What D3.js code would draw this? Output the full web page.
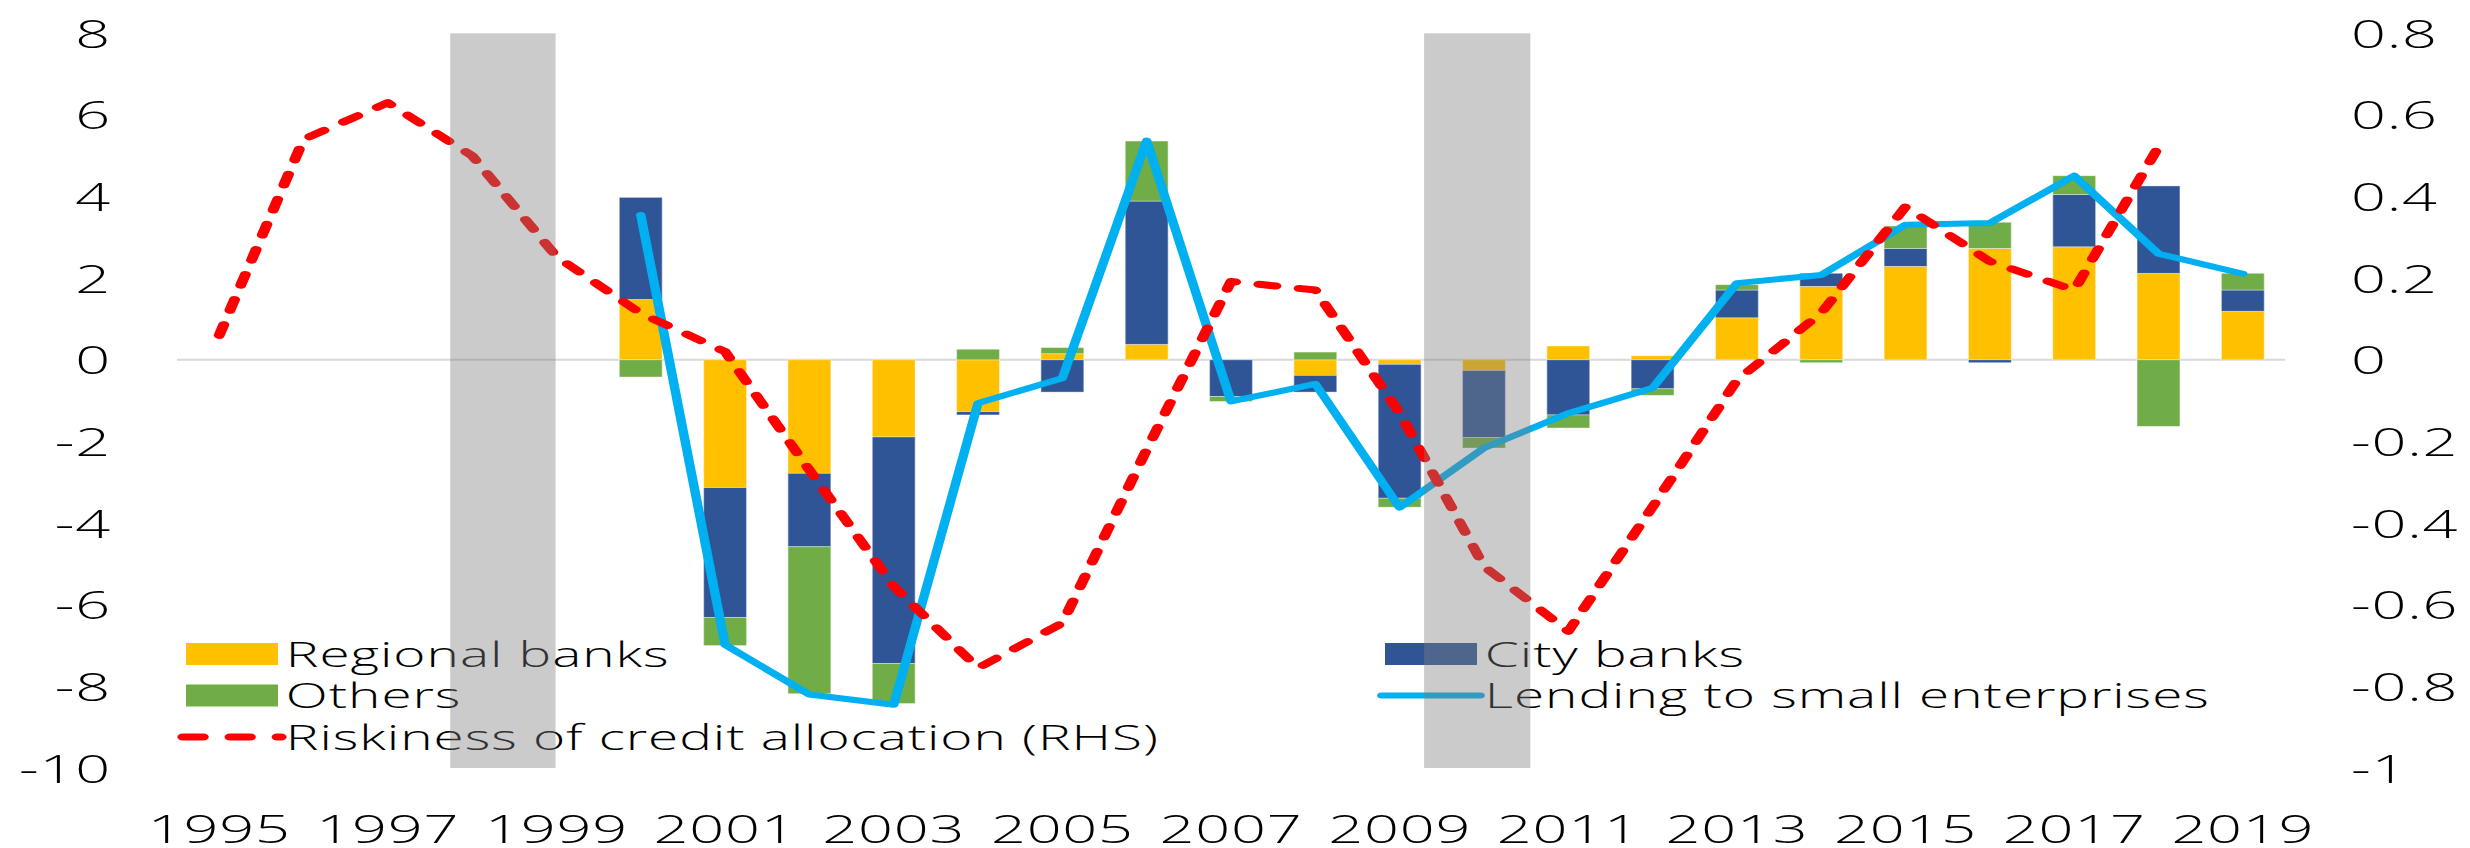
<!DOCTYPE html>
<html>
<head>
<meta charset="utf-8">
<style>
    html, body { margin: 0; padding: 0; background: #fff; }
    svg { display: block; }
    text { font-family: "Open Sans", "Noto Sans", sans-serif; font-weight: 300; fill: #000; }
</style>
</head>
<body>
<div id="chart"></div>
<script src="https://d3js.org/d3.v7.min.js"></script>
<script>

const years = [1995, 1996, 1997, 1998, 1999, 2000, 2001, 2002, 2003, 2004, 2005, 2006, 2007,
    2008, 2009, 2010, 2011, 2012, 2013, 2014, 2015, 2016, 2017, 2018, 2019]

// contributions, % (LHS)
const regional = [null, null, null, null, null, 1.48, -3.13, -2.78, -1.89, -1.27, 0.15, 0.38, 0,
    -0.38, -0.11, -0.26, 0.34, 0.10, 1.03, 1.80, 2.29, 2.73, 2.77, 2.12, 1.19]
const city = [null, null, null, null, null, 2.50, -3.18, -1.80, -5.55, -0.08, -0.79, 3.51, -0.90,
    -0.41, -3.28, -1.64, -1.35, -0.71, 0.68, 0.32, 0.44, -0.07, 1.28, 2.14, 0.52]
const others = [null, null, null, null, null, -0.42, -0.69, -3.60, -0.98, 0.26, 0.15, 1.47, -0.12,
    0.19, -0.22, -0.26, -0.32, -0.16, 0.13, -0.07, 0.55, 0.64, 0.46, -1.63, 0.41]
const lending = [null, null, null, null, null, 3.55, -6.98, -8.2, -8.45, -1.06, -0.45, 5.37, -1.02,
    -0.59, -3.62, -2.16, -1.31, -0.69, 1.88, 2.08, 3.31, 3.35, 4.51, 2.60, 2.11]
// RHS
const riskiness = [0.06, 0.54, 0.63, 0.50, 0.253, 0.114, 0.02, -0.27, -0.555, -0.755, -0.645, -0.22, 0.192,
    0.171, -0.13, -0.506, -0.665, -0.36, -0.05, 0.115, 0.375, 0.241, 0.171, 0.522, null]

// shaded periods, in year units
const shaded = [[1997.74, 1998.99], [2009.29, 2010.55]]

const leftTicks = [8, 6, 4, 2, 0, -2, -4, -6, -8, -10]
const rightTicks = [0.8, 0.6, 0.4, 0.2, 0, -0.2, -0.4, -0.6, -0.8, -1]
const yearTicks = [1995, 1997, 1999, 2001, 2003, 2005, 2007, 2009, 2011, 2013, 2015, 2017, 2019]

const colors = {
    regional: "#FFC000",
    city: "#2F5597",
    others: "#70AD47",
    lending: "#00B0F0",
    risk: "#FF0000"
}

const width = 2470
const height = 848
// the reference picture is stretched sideways, so draw narrow and let the viewBox widen it
const stretch = 1.57
const vw = width / stretch
const plot = { x0: 177 / stretch, x1: 2285 / stretch, y0: 33.3, y1: 768 }

const svg = d3.select("#chart").append("svg")
    .attr("width", width)
    .attr("height", height)
    .attr("viewBox", `0 0 ${vw} ${height}`)
    .attr("preserveAspectRatio", "none")

const x = d3.scaleBand()
    .domain(years)
    .range([plot.x0, plot.x1])
    .paddingInner(0.49)
    .paddingOuter(0.245)
const cx = yr => x(yr) + x.bandwidth() / 2
const xYear = d3.scaleLinear()
    .domain([years[0], years[years.length - 1]])
    .range([cx(years[0]), cx(years[years.length - 1])])

const yL = d3.scaleLinear().domain([-10, 8]).range([plot.y1, plot.y0])
const yR = d3.scaleLinear().domain([-1, 0.8]).range([plot.y1, plot.y0])

//  AXES  //////////////////////////////////////////

const leftAxis = svg.append("g")
    .attr("transform", `translate(${plot.x0},0)`)
    .call(d3.axisLeft(yL).tickValues(leftTicks).tickSize(0).tickPadding(42).tickFormat(d => String(d)))
const rightAxis = svg.append("g")
    .attr("transform", `translate(${plot.x1},0)`)
    .call(d3.axisRight(yR).tickValues(rightTicks).tickSize(0).tickPadding(42).tickFormat(d => String(d)))
const bottomAxis = svg.append("g")
    .attr("transform", `translate(0,843)`)
    .call(d3.axisBottom(x).tickValues(yearTicks).tickSize(0).tickFormat(d => String(d)))

;[leftAxis, rightAxis, bottomAxis].forEach(a => {
    a.select(".domain").remove()
    a.selectAll("text")
        .style("font-family", '"Open Sans", "Noto Sans", sans-serif')
        .style("font-weight", 300)
        .style("font-size", "39px")
        .style("letter-spacing", "0.5px")
        .attr("fill", "#000")
})
leftAxis.selectAll("text").attr("dy", "0.36em")
rightAxis.selectAll("text").attr("dy", "0.36em")
bottomAxis.selectAll("text").attr("y", 0).attr("dy", 0)

//  ZERO LINE  /////////////////////////////////////

svg.append("line")
    .attr("x1", plot.x0)
    .attr("x2", plot.x1)
    .attr("y1", yL(0))
    .attr("y2", yL(0))
    .attr("stroke", "#D9D9D9")
    .attr("stroke-width", 2)

//  BARS  //////////////////////////////////////////

const keys = ["regional", "city", "others"]
const table = years.map((yr, i) => ({
    year: yr,
    regional: regional[i] || 0,
    city: city[i] || 0,
    others: others[i] || 0
}))
const stacked = d3.stack().keys(keys).offset(d3.stackOffsetDiverging)(table)

svg.append("g")
    .selectAll("g")
    .data(stacked)
    .join("g")
    .attr("fill", s => colors[s.key])
    .selectAll("rect")
    .data(s => s.filter(d => d[1] !== d[0]))
    .join("rect")
    .attr("x", d => x(d.data.year))
    .attr("width", x.bandwidth())
    .attr("y", d => yL(Math.max(d[0], d[1])))
    .attr("height", d => Math.abs(yL(d[0]) - yL(d[1])))
    .attr("stroke", "rgba(255,255,255,0.45)")
    .attr("stroke-width", 0.8)

//  LINES  /////////////////////////////////////////

const lendingLine = d3.line()
    .defined(d => d.v != null)
    .x(d => cx(d.year))
    .y(d => yL(d.v))
const riskLine = d3.line()
    .defined(d => d.v != null)
    .x(d => cx(d.year))
    .y(d => yR(d.v))

svg.append("path")
    .datum(years.map((yr, i) => ({ year: yr, v: lending[i] })))
    .attr("d", lendingLine)
    .attr("fill", "none")
    .attr("stroke", colors.lending)
    .attr("stroke-width", 6)
    .attr("stroke-linejoin", "round")
    .attr("stroke-linecap", "round")

svg.append("path")
    .datum(years.map((yr, i) => ({ year: yr, v: riskiness[i] })))
    .attr("d", riskLine)
    .attr("fill", "none")
    .attr("stroke", colors.risk)
    .attr("stroke-width", 7)
    .attr("stroke-linejoin", "round")
    .attr("stroke-linecap", "round")
    .attr("stroke-dasharray", "11,15")

//  LEGEND  ////////////////////////////////////////

const legendItems = [
    { label: "Regional banks", type: "box", color: colors.regional, col: 0, row: 0 },
    { label: "Others", type: "box", color: colors.others, col: 0, row: 1 },
    { label: "Riskiness of credit allocation (RHS)", type: "dash", color: colors.risk, col: 0, row: 2 },
    { label: "City banks", type: "box", color: colors.city, col: 1, row: 0 },
    { label: "Lending to small enterprises", type: "line", color: colors.lending, col: 1, row: 1 }
]
const legendCols = [186 / stretch, 1385 / stretch]
const legendRow0 = 654
const legendRowGap = 41.5
const swatchW = 92 / stretch

const legend = svg.append("g")
legendItems.forEach(item => {
    const lx = legendCols[item.col]
    const ly = legendRow0 + item.row * legendRowGap
    if (item.type == "box") {
        legend.append("rect")
            .attr("x", lx)
            .attr("y", ly - 11)
            .attr("width", swatchW)
            .attr("height", 22)
            .attr("fill", item.color)
    } else {
        legend.append("line")
            .attr("x1", lx - 2)
            .attr("x2", lx + swatchW + 2)
            .attr("y1", ly)
            .attr("y2", ly)
            .attr("stroke", item.color)
            .attr("stroke-width", item.type == "dash" ? 7 : 6)
            .attr("stroke-linecap", "round")
            .attr("stroke-dasharray", item.type == "dash" ? "13,17" : null)
    }
    legend.append("text")
        .attr("x", lx + swatchW + 5)
        .attr("y", ly + 12.8)
        .style("font-size", "35px")
        .style("letter-spacing", "0.6px")
        .text(item.label)
})

//  SHADED PERIODS  ////////////////////////////////

svg.append("g")
    .selectAll("rect")
    .data(shaded)
    .join("rect")
    .attr("x", d => xYear(d[0]))
    .attr("width", d => xYear(d[1]) - xYear(d[0]))
    .attr("y", yL(8))
    .attr("height", yL(-10) - yL(8))
    .attr("fill", "rgb(124,124,124)")
    .attr("fill-opacity", 0.4)

</script>
</body>
</html>
